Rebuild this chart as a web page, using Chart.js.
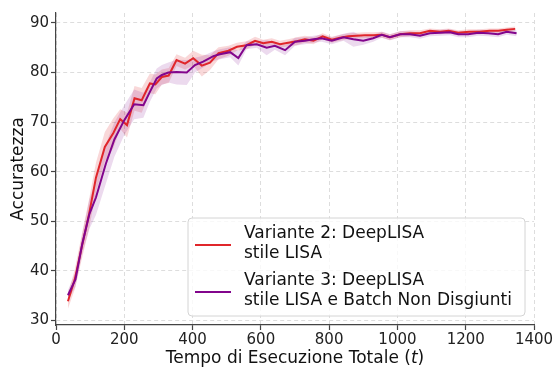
<!DOCTYPE html>
<html>
<head>
<meta charset="utf-8">
<script src="https://cdn.jsdelivr.net/npm/chart.js@4/dist/chart.umd.min.js"></script>
<style>
  html, body { margin: 0; padding: 0; background: #fff; }
  #wrap { width: 556px; height: 370px; }
</style>
</head>
<body>
<div id="wrap"><canvas id="grafico" width="556" height="370"></canvas></div>
<script>
// Variante 2: DeepLISA stile LISA
const tempiV2 = [35, 55, 76, 97, 117, 143, 168, 188, 208, 230, 251, 275, 291, 310, 330, 353, 378, 402, 427, 451,
                 476, 505, 530, 558, 583, 607, 632, 656, 680, 705, 729, 754, 781, 808, 832, 856, 880, 905, 930, 955,
                 978, 1008, 1037, 1066, 1095, 1125, 1150, 1178, 1210, 1240, 1270, 1295, 1320, 1345];
const accV2 = [33.9, 38.3, 45.0, 51.5, 58.8, 65.0, 67.8, 70.6, 69.4, 74.8, 74.4, 77.8, 77.6, 79.1, 79.4, 82.5, 81.8, 82.9, 81.4, 82.0,
               83.9, 84.4, 85.2, 85.5, 86.4, 85.9, 86.2, 85.7, 86.0, 86.3, 86.7, 86.4, 87.3, 86.6, 87.0, 87.3, 87.4, 87.5, 87.5, 87.6,
               87.1, 87.7, 87.9, 87.9, 88.4, 88.2, 88.4, 88.0, 88.2, 88.2, 88.4, 88.4, 88.6, 88.8];
const devV2 = [1.5, 2.0, 2.5, 3.0, 3.0, 3.0, 3.0, 2.0, 2.5, 2.5, 2.5, 2.0, 2.0, 1.5, 1.5, 1.2, 1.2, 1.5, 2.2, 1.5,
               1.2, 1.0, 0.8, 0.8, 0.8, 0.7, 0.7, 0.7, 0.7, 0.8, 0.7, 0.7, 0.6, 0.6, 0.6, 0.6, 0.6, 0.6, 0.6, 0.6,
               0.6, 0.6, 0.6, 0.6, 0.5, 0.5, 0.5, 0.5, 0.5, 0.5, 0.5, 0.5, 0.5, 0.5];

// Variante 3: DeepLISA stile LISA e Batch Non Disgiunti
const tempiV3 = [35, 57, 77, 98, 117, 146, 171, 200, 229, 256, 275, 295, 310, 329, 353, 383, 407, 431, 461, 480,
                 510, 534, 558, 588, 617, 641, 671, 700, 729, 754, 778, 808, 842, 871, 900, 929, 954, 978, 1008, 1037,
                 1066, 1095, 1125, 1154, 1178, 1207, 1237, 1266, 1295, 1320, 1349];
const accV3 = [35.1, 38.3, 45.5, 51.5, 54.8, 61.6, 66.5, 70.4, 73.6, 73.4, 76.1, 78.8, 79.5, 80.0, 80.1, 80.0, 81.5, 82.2, 83.3, 83.7,
               84.1, 82.9, 85.5, 85.7, 85.0, 85.4, 84.5, 86.2, 86.4, 86.7, 86.9, 86.4, 87.1, 86.7, 86.4, 86.9, 87.6, 87.1, 87.7, 87.7,
               87.4, 87.9, 88.0, 88.1, 87.7, 87.7, 88.0, 87.9, 87.7, 88.2, 87.9];
const devV3 = [1.0, 1.5, 2.0, 3.0, 3.5, 4.0, 3.5, 3.0, 3.0, 2.5, 2.0, 2.0, 2.0, 2.0, 2.5, 2.5, 1.5, 1.2, 1.0, 1.0,
               1.0, 1.5, 0.8, 0.7, 1.5, 0.8, 1.0, 0.8, 0.7, 0.7, 0.7, 0.7, 0.7, 1.5, 0.8, 0.7, 0.6, 0.6, 0.6, 0.6,
               0.6, 0.6, 0.6, 0.6, 0.6, 0.6, 0.6, 0.6, 0.6, 0.6, 0.6];

const etichette = [
  ['Variante 2: DeepLISA', 'stile LISA'],
  ['Variante 3: DeepLISA', 'stile LISA e Batch Non Disgiunti']
];
const tickY = [30, 40, 50, 60, 70, 80, 90];
const tickX = [0, 200, 400, 600, 800, 1000, 1200, 1400];

const ROSSO = '#e0262b';
const VIOLA = '#82058c';
const FONT = "'DejaVu Sans', sans-serif";

const punti = (xs, ys) => xs.map((x, i) => ({ x, y: ys[i] }));
const banda = (xs, ys, sd, s) => xs.map((x, i) => ({ x, y: ys[i] + s * sd[i] }));

const linea = (label, data, color) => ({
  label, data, borderColor: color, borderWidth: 2, pointRadius: 0, tension: 0, fill: false
});
const bordoBanda = (data, fill, bg) => ({
  label: '', data, borderWidth: 0, borderColor: 'rgba(0,0,0,0)', pointRadius: 0, tension: 0,
  fill, backgroundColor: bg
});

// custom legend (multi-line entries) and axis titles with italic "t"
const decorazioni = {
  id: 'decorazioni',
  afterDraw(chart) {
    const ctx = chart.ctx;
    const a = chart.chartArea;
    ctx.save();
    // x title
    ctx.fillStyle = '#111';
    ctx.textBaseline = 'alphabetic';
    const parti = [
      { t: 'Tempo di Esecuzione Totale (', f: '17px ' + FONT },
      { t: 't', f: 'italic 17px ' + FONT },
      { t: ')', f: '17px ' + FONT }
    ];
    let tot = 0;
    parti.forEach(p => { ctx.font = p.f; p.w = ctx.measureText(p.t).width; tot += p.w; });
    let x = (a.left + a.right) / 2 - tot / 2;
    ctx.textAlign = 'left';
    parti.forEach(p => { ctx.font = p.f; ctx.fillText(p.t, x, 363); x += p.w; });

    // y title
    ctx.save();
    ctx.translate(23, (a.top + a.bottom) / 2);
    ctx.rotate(-Math.PI / 2);
    ctx.font = '17px ' + FONT;
    ctx.textAlign = 'center';
    ctx.fillText('Accuratezza', 0, 0);
    ctx.restore();

    // legend
    const bx = 188, by = 218, bw = 337, bh = 98, r = 4;
    ctx.beginPath();
    ctx.moveTo(bx + r, by);
    ctx.arcTo(bx + bw, by, bx + bw, by + bh, r);
    ctx.arcTo(bx + bw, by + bh, bx, by + bh, r);
    ctx.arcTo(bx, by + bh, bx, by, r);
    ctx.arcTo(bx, by, bx + bw, by, r);
    ctx.closePath();
    ctx.fillStyle = 'rgba(255,255,255,0.8)';
    ctx.fill();
    ctx.strokeStyle = '#d4d4d4';
    ctx.lineWidth = 1;
    ctx.stroke();

    const colori = [ROSSO, VIOLA];
    const basi = [238, 285];
    ctx.font = '17px ' + FONT;
    ctx.textAlign = 'left';
    etichette.forEach((righe, i) => {
      const b = basi[i];
      ctx.strokeStyle = colori[i];
      ctx.lineWidth = 2;
      ctx.beginPath();
      ctx.moveTo(195, b + 7);
      ctx.lineTo(231, b + 7);
      ctx.stroke();
      ctx.fillStyle = '#111';
      righe.forEach((testo, j) => ctx.fillText(testo, 244, b + j * 20));
    });
    ctx.restore();
  }
};

const griglia = {
  color: '#dddddd',
  lineWidth: 1,
  drawTicks: true,
  tickLength: 5,
  tickColor: '#444',
  tickBorderDash: [],
  tickWidth: 1.2
};
const bordo = { display: true, color: '#444', width: 1.2, dash: [4, 3] };

new Chart(document.getElementById('grafico'), {
  type: 'line',
  data: {
    datasets: [
      linea(etichette[1].join(' '), punti(tempiV3, accV3), VIOLA),
      linea(etichette[0].join(' '), punti(tempiV2, accV2), ROSSO),
      bordoBanda(banda(tempiV3, accV3, devV3, 1), '+1', 'rgba(130,5,140,0.15)'),
      bordoBanda(banda(tempiV3, accV3, devV3, -1), false, 'rgba(0,0,0,0)'),
      bordoBanda(banda(tempiV2, accV2, devV2, 1), '+1', 'rgba(224,38,43,0.18)'),
      bordoBanda(banda(tempiV2, accV2, devV2, -1), false, 'rgba(0,0,0,0)')
    ]
  },
  options: {
    responsive: false,
    animation: false,
    devicePixelRatio: 1,
    layout: { padding: { top: 13, right: 22, left: 0, bottom: 0 } },
    plugins: { legend: { display: false }, tooltip: { enabled: false } },
    scales: {
      x: {
        type: 'linear',
        min: 0, max: 1400,
        afterBuildTicks: s => { s.ticks = tickX.map(v => ({ value: v })); },
        afterFit: s => { s.height = 45; },
        ticks: { font: { family: FONT, size: 15 }, color: '#222', padding: 1, maxRotation: 0, callback: v => String(v) },
        grid: griglia,
        border: bordo
      },
      y: {
        type: 'linear',
        min: 29.1, max: 92,
        afterBuildTicks: s => { s.ticks = tickY.map(v => ({ value: v })); },
        afterFit: s => { s.width = 56; },
        ticks: { font: { family: FONT, size: 15 }, color: '#222', padding: 2, callback: v => String(v) },
        grid: griglia,
        border: bordo
      }
    }
  },
  plugins: [decorazioni]
});
</script>
</body>
</html>
